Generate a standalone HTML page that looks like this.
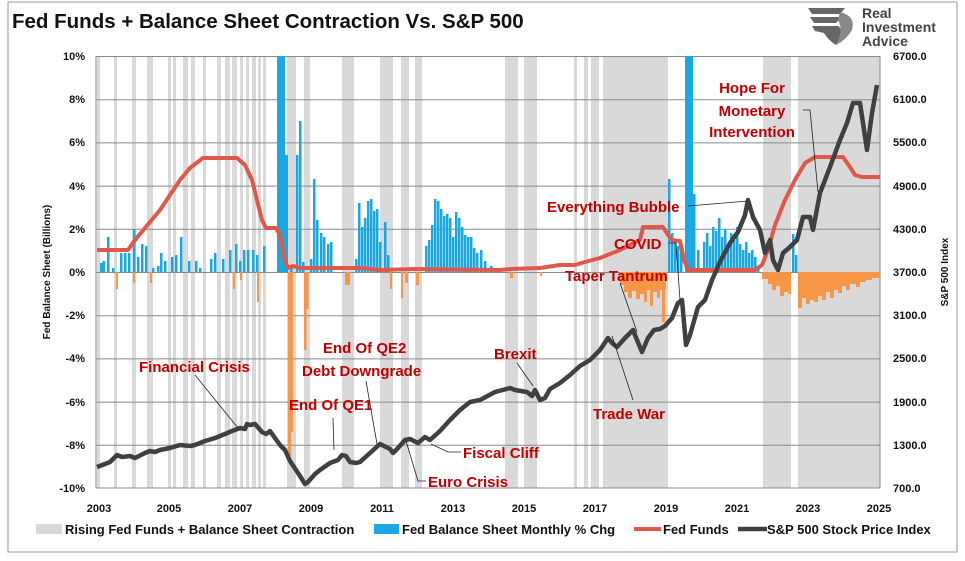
<!DOCTYPE html>
<html><head><meta charset="utf-8"><style>
html,body{margin:0;padding:0;background:#fff;}
svg{display:block;font-family:"Liberation Sans",sans-serif;}
.ax{font-size:11px;font-weight:bold;fill:#111;}
.an{font-size:15px;font-weight:bold;fill:#C00000;}
.lg{font-size:13px;font-weight:bold;fill:#111;}
</style></head><body>
<svg width="965" height="561" viewBox="0 0 965 561">
<rect x="8" y="2" width="949" height="550" fill="#fff" stroke="#999" stroke-width="1"/>
<text x="12" y="28" font-size="20.5" font-weight="bold" fill="#111">Fed Funds + Balance Sheet Contraction Vs. S&amp;P 500</text>
<!-- logo -->
<g fill="#666">
<path d="M808 8 L845 8 L840 14 L812 14 Z"/>
<path d="M810 17 L842 17 L836 23 L814 23 Z"/>
<path d="M812 26 L838 26 Q845 30 836 45 Q828 40 824 33 L815 31 Z"/>
<path d="M840 12 Q856 16 852 30 Q846 40 836 45 Q844 30 838 20 Z" fill="#888"/>
</g>
<text x="862" y="18" font-size="14" font-weight="bold" fill="#444">Real</text>
<text x="862" y="32" font-size="14" font-weight="bold" fill="#444">Investment</text>
<text x="862" y="46" font-size="14" font-weight="bold" fill="#444">Advice</text>
<!-- shading -->
<g fill="#d9d9d9">
<rect x="97" y="56" width="3" height="432"/><rect x="114" y="56" width="3" height="432"/><rect x="132" y="56" width="4" height="432"/><rect x="147" y="56" width="6" height="432"/>
<rect x="168" y="56" width="3" height="432"/><rect x="173" y="56" width="3" height="432"/><rect x="183" y="56" width="5" height="432"/><rect x="191" y="56" width="4" height="432"/>
<rect x="203" y="56" width="3" height="432"/><rect x="217" y="56" width="4" height="432"/><rect x="225" y="56" width="5" height="432"/><rect x="232" y="56" width="5" height="432"/>
<rect x="240" y="56" width="3" height="432"/><rect x="246" y="56" width="3" height="432"/><rect x="252" y="56" width="4" height="432"/><rect x="258" y="56" width="3" height="432"/><rect x="263" y="56" width="3" height="432"/>
<rect x="287" y="56" width="9" height="432"/><rect x="304" y="56" width="6" height="432"/><rect x="342" y="56" width="12" height="432"/><rect x="380" y="56" width="13" height="432"/>
<rect x="401" y="56" width="8" height="432"/><rect x="415" y="56" width="7" height="432"/><rect x="505" y="56" width="13" height="432"/><rect x="524" y="56" width="13" height="432"/>
<rect x="574" y="56" width="3" height="432"/><rect x="584" y="56" width="4" height="432"/><rect x="591" y="56" width="8" height="432"/><rect x="603" y="56" width="65" height="432"/>
<rect x="763" y="56" width="28" height="432"/><rect x="798" y="56" width="82" height="432"/>
</g>
<!-- grid -->
<g stroke="#8a8a8a" stroke-width="1">
<line x1="96" y1="56.5" x2="880" y2="56.5"/><line x1="96" y1="99.7" x2="880" y2="99.7"/><line x1="96" y1="142.9" x2="880" y2="142.9"/><line x1="96" y1="186.1" x2="880" y2="186.1"/><line x1="96" y1="229.3" x2="880" y2="229.3"/><line x1="96" y1="272.5" x2="880" y2="272.5"/><line x1="96" y1="315.7" x2="880" y2="315.7"/><line x1="96" y1="358.9" x2="880" y2="358.9"/><line x1="96" y1="402.1" x2="880" y2="402.1"/><line x1="96" y1="445.3" x2="880" y2="445.3"/><line x1="96" y1="488" x2="880" y2="488"/>
<line x1="96" y1="56" x2="96" y2="488"/><line x1="880" y1="56" x2="880" y2="488"/>
</g>
<!-- blue bars -->
<g fill="#1AA7E6">
<rect x="100" y="263" width="2.5" height="9"/><rect x="102.5" y="261" width="2.5" height="11"/><rect x="107" y="237" width="2.5" height="35"/><rect x="112" y="268" width="2.5" height="4"/>
<rect x="120" y="253" width="2.5" height="19"/><rect x="124" y="253" width="2.5" height="19"/><rect x="128" y="253" width="2.5" height="19"/><rect x="133" y="229" width="2.5" height="43"/><rect x="137" y="257" width="2.5" height="15"/><rect x="141" y="244" width="2.5" height="28"/><rect x="145" y="246" width="2.5" height="26"/>
<rect x="152" y="268" width="2.5" height="4"/><rect x="157" y="266" width="2.5" height="6"/><rect x="160" y="253" width="2.5" height="19"/><rect x="164" y="261" width="2.5" height="11"/><rect x="171" y="257" width="2.5" height="15"/><rect x="175" y="255" width="2.5" height="17"/><rect x="180" y="237" width="2.5" height="35"/>
<rect x="188" y="261" width="2.5" height="11"/><rect x="195" y="261" width="2.5" height="11"/><rect x="199" y="268" width="2.5" height="4"/><rect x="210" y="259" width="2.5" height="13"/><rect x="214" y="253" width="2.5" height="19"/><rect x="222" y="259" width="2.5" height="13"/><rect x="229" y="250" width="2.5" height="22"/>
<rect x="235" y="244" width="2.5" height="28"/><rect x="239" y="261" width="2.5" height="11"/><rect x="243" y="250" width="2.5" height="22"/><rect x="247" y="250" width="2.5" height="22"/><rect x="252" y="250" width="2.5" height="22"/><rect x="256" y="255" width="2.5" height="17"/><rect x="263" y="246" width="2.5" height="26"/>
<rect x="277" y="56" width="8" height="216"/><rect x="285" y="155" width="3" height="117"/><rect x="290" y="266" width="2.5" height="6"/>
<rect x="296" y="155" width="2.5" height="117"/><rect x="299" y="121" width="2.5" height="151"/><rect x="302" y="262" width="2.5" height="10"/><rect x="310" y="259" width="2.5" height="13"/><rect x="313" y="179" width="2.5" height="93"/><rect x="316" y="220" width="2.5" height="52"/>
<rect x="320" y="233" width="2.5" height="39"/><rect x="323" y="237" width="2.5" height="35"/><rect x="327" y="244" width="2.5" height="28"/><rect x="330" y="242" width="2.5" height="30"/>
<rect x="355" y="259" width="2.5" height="13"/><rect x="358" y="203" width="2.5" height="69"/><rect x="361" y="227" width="2.5" height="45"/><rect x="364" y="218" width="2.5" height="54"/><rect x="367" y="201" width="2.5" height="71"/><rect x="370" y="199" width="2.5" height="73"/><rect x="373" y="211" width="2.5" height="61"/><rect x="376" y="209" width="2.5" height="63"/><rect x="379" y="242" width="2.5" height="30"/>
<rect x="384" y="222" width="2.5" height="50"/><rect x="387" y="255" width="2.5" height="17"/>
<rect x="425" y="246" width="2.5" height="26"/><rect x="428" y="240" width="2.5" height="32"/><rect x="431" y="225" width="2.5" height="47"/><rect x="434" y="199" width="2.5" height="73"/><rect x="437" y="201" width="2.5" height="71"/><rect x="440" y="209" width="2.5" height="63"/><rect x="443" y="216" width="2.5" height="56"/><rect x="446" y="214" width="2.5" height="58"/><rect x="449" y="218" width="2.5" height="54"/><rect x="452" y="237" width="2.5" height="35"/><rect x="455" y="212" width="2.5" height="60"/><rect x="458" y="218" width="2.5" height="54"/><rect x="461" y="227" width="2.5" height="45"/><rect x="464" y="235" width="2.5" height="37"/><rect x="467" y="237" width="2.5" height="35"/><rect x="470" y="237" width="2.5" height="35"/><rect x="473" y="248" width="2.5" height="24"/><rect x="476" y="253" width="2.5" height="19"/><rect x="480" y="250" width="2.5" height="22"/><rect x="484" y="261" width="2.5" height="11"/><rect x="490" y="266" width="2.5" height="6"/>
<rect x="668" y="179" width="2.5" height="93"/><rect x="671" y="233" width="2.5" height="39"/><rect x="674" y="240" width="2.5" height="32"/><rect x="677" y="246" width="2.5" height="26"/><rect x="680" y="242" width="2.5" height="30"/>
<rect x="685" y="56" width="8" height="216"/><rect x="693" y="194" width="2.5" height="78"/><rect x="697" y="250" width="2.5" height="22"/>
<rect x="703" y="242" width="2.5" height="30"/><rect x="706" y="233" width="2.5" height="39"/><rect x="709" y="246" width="2.5" height="26"/><rect x="712" y="227" width="2.5" height="45"/><rect x="715" y="231" width="2.5" height="41"/><rect x="718" y="218" width="2.5" height="54"/><rect x="721" y="237" width="2.5" height="35"/><rect x="724" y="229" width="2.5" height="43"/><rect x="727" y="246" width="2.5" height="26"/><rect x="730" y="233" width="2.5" height="39"/><rect x="733" y="240" width="2.5" height="32"/><rect x="736" y="227" width="2.5" height="45"/><rect x="739" y="244" width="2.5" height="28"/><rect x="742" y="250" width="2.5" height="22"/><rect x="745" y="242" width="2.5" height="30"/><rect x="748" y="253" width="2.5" height="19"/><rect x="751" y="250" width="2.5" height="22"/><rect x="754" y="257" width="2.5" height="15"/><rect x="757" y="266" width="2.5" height="6"/>
<rect x="792" y="234" width="2.5" height="38"/><rect x="795" y="255" width="2.5" height="17"/>
</g>
<!-- orange bars -->
<g fill="#F79646">
<rect x="116" y="272" width="2" height="17"/><rect x="133" y="272" width="2" height="11"/><rect x="150" y="272" width="2" height="11"/><rect x="233" y="272" width="2" height="17"/><rect x="240" y="272" width="2" height="8"/><rect x="257" y="272" width="2" height="30"/>
<rect x="288" y="272" width="3" height="184"/><rect x="291" y="272" width="2" height="160"/><rect x="304" y="272" width="2.5" height="78"/><rect x="306.5" y="272" width="2" height="37"/>
<rect x="345" y="272" width="5" height="13"/><rect x="390" y="272" width="2" height="17"/><rect x="401" y="272" width="2" height="26"/><rect x="405" y="272" width="3" height="11"/><rect x="416" y="272" width="3" height="13"/><rect x="510" y="272" width="3" height="6"/><rect x="540" y="272" width="2" height="4"/>
<polygon points="620,272 620,285 624,285 624,292 628,292 628,298 632,298 632,291 636,291 636,299 640,299 640,294 644,294 644,302 647,302 647,290 650,290 650,306 653,306 653,292 657,292 657,298 660,298 660,290 666,290 666,272"/>
<rect x="662" y="272" width="3" height="50"/>
<polygon points="762,272 762,279 768,279 768,284 772,284 772,290 776,290 776,286 780,286 780,296 784,296 784,292 788,292 788,294 791,294 791,272"/>
<polygon points="798,272 798,308 802,308 802,298 806,298 806,304 810,304 810,300 814,300 814,302 818,302 818,296 822,296 822,300 826,300 826,292 830,292 830,298 834,298 834,290 838,290 838,293 842,293 842,286 846,286 846,290 850,290 850,284 856,284 856,287 860,287 860,282 866,282 866,280 872,280 872,278 880,278 880,272"/>
</g>
<!-- fed funds -->
<polyline fill="none" stroke="#E0584A" stroke-width="4" stroke-linejoin="round" points="97,250 128,250 135,240 145,228 160,210 170,195 180,180 190,168 203,158 237,158 245,165 252,180 257,200 262,220 266,228 276,228 280,235 284,258 288,268 293,266 300,268 320,268 360,268 380,270 415,269 500,270 510,269 540,268 560,265 575,265 585,262 600,258 620,250 640,240 643,227 663,227 668,235 672,240 680,241 684,260 688,270 755,270 762,265 768,250 775,225 785,200 795,180 805,163 815,157 843,157 850,167 855,175 862,177 880,177"/>
<!-- s&p -->
<polyline fill="none" stroke="#404040" stroke-width="4.5" stroke-linejoin="round" points="97,467 105,464 110,462 117,455 122,457 130,456 135,458 145,453 150,451 155,452 160,450 170,448 180,445 190,446 195,445 205,441 215,438 225,434 232,431 240,428 245,429 247,424 250,425 255,424 262,432 266,434 270,431 275,438 280,445 285,450 290,461 296,470 300,476 305,484 308,482 315,474 320,470 330,463 338,460 342,455 346,456 350,462 356,463 360,462 370,453 380,444 384,446 390,449 393,453 398,448 405,440 410,439 418,443 425,437 430,440 440,431 450,420 460,410 470,402 480,400 495,392 510,388 515,390 527,392 532,396 535,390 540,400 545,398 550,389 560,383 570,375 580,366 590,360 600,350 608,338 612,343 617,347 625,338 633,330 637,340 642,352 648,338 654,330 660,329 665,326 672,318 678,303 682,300 686,345 690,335 698,307 705,300 712,280 720,262 730,243 738,232 745,215 748,200 753,217 760,230 765,253 770,240 773,260 778,270 783,253 790,247 797,240 803,217 810,217 813,230 820,193 830,167 840,140 847,123 853,103 860,103 867,150 872,113 877,85"/>
<!-- leader lines -->
<g stroke="#222" stroke-width="0.8" fill="none">
<line x1="195" y1="375" x2="238" y2="428"/><line x1="366" y1="381" x2="377" y2="444"/><line x1="333" y1="418" x2="334" y2="450"/>
<polyline points="461,452 448,452 431,444"/><polyline points="426,481 418,481 406,441"/><line x1="517" y1="363" x2="533" y2="386"/>
<line x1="633" y1="400" x2="612" y2="336"/><line x1="620" y1="283" x2="637" y2="332"/><polyline points="668,243 676,243 680,300"/>
<line x1="688" y1="206" x2="748" y2="201"/><polyline points="803,110 810,110 818,192"/>
</g>
<!-- annotations -->
<g class="an">
<text x="139" y="372">Financial Crisis</text>
<text x="323" y="353">End Of QE2</text>
<text x="302" y="376">Debt Downgrade</text>
<text x="289" y="410">End Of QE1</text>
<text x="463" y="458">Fiscal Cliff</text>
<text x="428" y="487">Euro Crisis</text>
<text x="494" y="359">Brexit</text>
<text x="593" y="419">Trade War</text>
<text x="565" y="281">Taper Tantrum</text>
<text x="614" y="249">COVID</text>
<text x="547" y="212">Everything Bubble</text>
<text x="752" y="93" text-anchor="middle">Hope For</text>
<text x="752" y="116" text-anchor="middle">Monetary</text>
<text x="752" y="137" text-anchor="middle">Intervention</text>
</g>
<!-- left axis -->
<g class="ax" text-anchor="end">
<text x="85" y="60">10%</text><text x="85" y="103">8%</text><text x="85" y="146">6%</text><text x="85" y="190">4%</text><text x="85" y="233">2%</text><text x="85" y="276">0%</text><text x="85" y="319">-2%</text><text x="85" y="362">-4%</text><text x="85" y="406">-6%</text><text x="85" y="449">-8%</text><text x="85" y="492">-10%</text>
</g>
<g class="ax">
<text x="893" y="60">6700.0</text><text x="893" y="103">6100.0</text><text x="893" y="146">5500.0</text><text x="893" y="190">4900.0</text><text x="893" y="233">4300.0</text><text x="893" y="276">3700.0</text><text x="893" y="319">3100.0</text><text x="893" y="362">2500.0</text><text x="893" y="406">1900.0</text><text x="893" y="449">1300.0</text><text x="893" y="492">700.0</text>
</g>
<g class="ax" text-anchor="middle">
<text x="99" y="512">2003</text><text x="169" y="512">2005</text><text x="240" y="512">2007</text><text x="311" y="512">2009</text><text x="382" y="512">2011</text><text x="453" y="512">2013</text><text x="524" y="512">2015</text><text x="595" y="512">2017</text><text x="666" y="512">2019</text><text x="737" y="512">2021</text><text x="808" y="512">2023</text><text x="879" y="512">2025</text>
</g>
<text transform="translate(50,272) rotate(-90)" text-anchor="middle" font-size="10" font-weight="bold" fill="#111">Fed Balance Sheet (Billions)</text>
<text transform="translate(948,272) rotate(-90)" text-anchor="middle" font-size="10" font-weight="bold" fill="#111">S&amp;P 500 Index</text>
<!-- legend -->
<rect x="36" y="524" width="26" height="10" fill="#d9d9d9"/>
<text class="lg" x="65" y="534">Rising Fed Funds + Balance Sheet Contraction</text>
<rect x="374" y="524" width="25" height="10" fill="#1AA7E6"/>
<text class="lg" x="402" y="534">Fed Balance Sheet Monthly % Chg</text>
<line x1="634" y1="529" x2="661" y2="529" stroke="#E0584A" stroke-width="4"/>
<text class="lg" x="663" y="534">Fed Funds</text>
<line x1="738" y1="529" x2="767" y2="529" stroke="#404040" stroke-width="4.5"/>
<text class="lg" x="767" y="534">S&amp;P 500 Stock Price Index</text>
</svg>
</body></html>
